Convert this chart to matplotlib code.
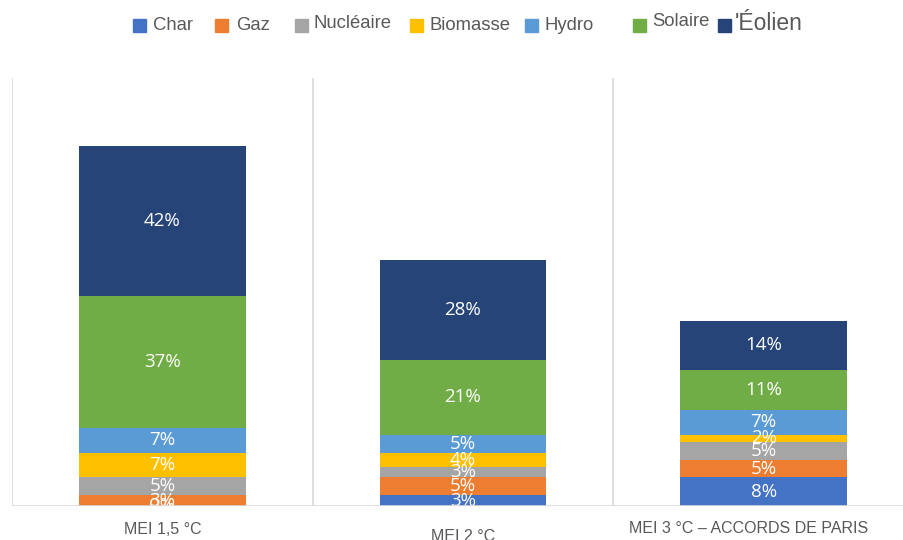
import numpy as np
import matplotlib.pyplot as plt
from matplotlib.patches import Rectangle

scenarios = ['MEI 1,5 °C', 'MEI 2 °C', 'MEI 3 °C – ACCORDS DE PARIS']
sources = ['Char', 'Gaz', 'Nucléaire', 'Biomasse', 'Hydro', 'Solaire', "'Éolien"]
colors = ['#4472C4', '#ED7D31', '#A5A5A5', '#FFC000', '#5B9BD5', '#70AD47', '#264478']

char = [0, 3, 8]
gaz = [3, 5, 5]
nucleaire = [5, 3, 5]
biomasse = [7, 4, 2]
hydro = [7, 5, 7]
solaire = [37, 21, 11]
eolien = [42, 28, 14]
series = [char, gaz, nucleaire, biomasse, hydro, solaire, eolien]

W, H = 904, 540
fig = plt.figure(figsize=(W / 100, H / 100), dpi=100)
ax = fig.add_axes([12 / W, 34 / H, 892 / W, 428 / H])

x = np.arange(len(scenarios))
bottom = np.zeros(len(scenarios))
for vals, c in zip(series, colors):
    vals = np.array(vals, dtype=float)
    ax.bar(x, vals, 0.555, bottom=bottom, color=c, zorder=3)
    for xi, b, v in zip(x, bottom, vals):
        ax.text(xi, b + v / 2, f'{v:.0f}%', ha='center', va='center',
                color='white', fontsize=13.5, family='Open Sans', zorder=4)
    bottom += vals

ax.set_xlim(-0.5, 2.5 - 10 / 301)
ax.set_ylim(0, 120)
for b in [-0.5, 0.5, 1.5]:
    ax.axvline(b, color='#d9d9d9', lw=1.2, zorder=1)
ax.axhline(0, color='#d9d9d9', lw=1.2, zorder=5)
for s in ax.spines.values():
    s.set_visible(False)
ax.set_xticks([])
ax.set_yticks([])

# category labels (slightly uneven, as in the source)
lab_pos = [(0, -0.056), (1, -0.072), (1.95, -0.052)]
for (px, py), t in zip(lab_pos, scenarios):
    ax.text(px, py, t, transform=ax.get_xaxis_transform(), ha='center', va='center',
            color='#595959', fontsize=11.5, family='Liberation Sans', clip_on=False)

# hand-placed legend, mimicking the source's irregular spacing
mark_x = [133, 215, 295, 410, 525, 633, 718]
text_x = [153, 236, 314, 430, 545, 652, 735]
text_y = [26, 26, 23, 26, 26, 21, 24]
text_size = [13.3, 13.3, 13.3, 13.3, 13.3, 13.3, 16.5]
for mx, tx, ty, fs, lab, c in zip(mark_x, text_x, text_y, text_size, sources, colors):
    fig.patches.append(Rectangle((mx / W, 1 - 32 / H), 13 / W, 13 / H, color=c,
                                 transform=fig.transFigure, figure=fig))
    fig.text(tx / W, 1 - ty / H, lab, ha='left', va='center', color='#595959',
             fontsize=fs, family='Liberation Sans')

fig.savefig('out.png', dpi=100)
